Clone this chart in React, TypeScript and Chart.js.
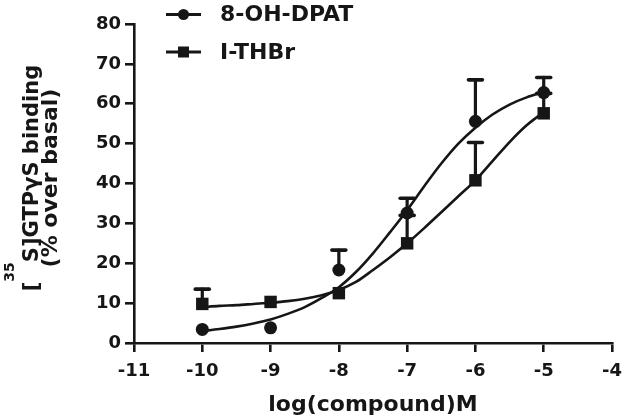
import { useEffect, useRef } from "react";
import { Chart, registerables } from "chart.js";

Chart.register(...registerables);

// ---- data ----
const logDose = [-10, -9, -8, -7, -6, -5];
const dpatMean = [3.4, 3.8, 18.3, 32.6, 55.6, 62.8];
const dpatSem = [0, 0, 5.0, 3.7, 10.4, 3.8];
const thbrMean = [9.8, 10.3, 12.5, 25.0, 40.8, 57.6];
const thbrSem = [3.7, 0, 0, 7.0, 9.5, 5.0];

// fitted curves at 0.25 log-unit steps
const fitX = [-10, -9.75, -9.5, -9.25, -9, -8.75, -8.5, -8.25, -8, -7.75, -7.5, -7.25, -7, -6.75, -6.5, -6.25, -6, -5.75, -5.5, -5.25, -5];
const dpatFit = [3.0, 3.5, 4.1, 4.9, 5.9, 7.3, 9.0, 11.3, 14.0, 17.8, 22.5, 27.8, 33.3, 39.3, 45.0, 50.0, 54.0, 57.3, 59.8, 61.6, 62.9];
const thbrFit = [9.0, 9.3, 9.5, 9.8, 10.1, 10.5, 11.1, 12.0, 13.3, 15.3, 18.3, 21.5, 25.0, 28.8, 32.8, 36.8, 40.8, 45.6, 50.4, 54.6, 57.9];

const xTicks = [-11, -10, -9, -8, -7, -6, -5, -4];
const yTicks = [0, 10, 20, 30, 40, 50, 60, 70, 80];
const seriesNames = ["8-OH-DPAT", "I-THBr"];
const xTitle = "log(compound)M";
const yTitleParts = ["[", "35", "S]GTP\u03B3S binding"];
const yTitleLine2 = "(% over basal)";

const INK = "#161616";
const FONT = "'DejaVu Sans', sans-serif";

const errorBarPlugin = {
  id: "errorBars",
  afterDatasetDraw(chart: any, args: any) {
    if (args.index !== 2) return;
    const ctx = chart.ctx;
    const xs = chart.scales.x;
    const ys = chart.scales.y;
    const groups = [
      { mean: dpatMean, sem: dpatSem },
      { mean: thbrMean, sem: thbrSem },
    ];
    ctx.save();
    ctx.strokeStyle = INK;
    ctx.lineCap = "round";
    groups.forEach((g) => {
      logDose.forEach((d, i) => {
        if (!g.sem[i]) return;
        const px = xs.getPixelForValue(d);
        const py = ys.getPixelForValue(g.mean[i]);
        const pt = ys.getPixelForValue(g.mean[i] + g.sem[i]);
        ctx.lineWidth = 3.2;
        ctx.beginPath();
        ctx.moveTo(px, py);
        ctx.lineTo(px, pt);
        ctx.stroke();
        ctx.lineWidth = 3.6;
        ctx.beginPath();
        ctx.moveTo(px - 7, pt);
        ctx.lineTo(px + 7, pt);
        ctx.stroke();
      });
    });
    ctx.restore();
  },
};

const textPlugin = {
  id: "extraText",
  afterDraw(chart: any) {
    const ctx = chart.ctx;
    ctx.save();
    ctx.fillStyle = INK;
    ctx.strokeStyle = INK;
    // legend
    const rows = [
      { y: 14.5, shape: "circle" },
      { y: 52, shape: "square" },
    ];
    rows.forEach((r, i) => {
      ctx.lineWidth = 3;
      ctx.beginPath();
      ctx.moveTo(166, r.y);
      ctx.lineTo(201, r.y);
      ctx.stroke();
      ctx.beginPath();
      if (r.shape === "circle") {
        ctx.arc(183.5, r.y, 5.5, 0, Math.PI * 2);
      } else {
        ctx.rect(178, r.y - 5.5, 11, 11);
      }
      ctx.fill();
      ctx.font = `bold 22px ${FONT}`;
      ctx.textBaseline = "middle";
      ctx.textAlign = "left";
      ctx.fillText(seriesNames[i], 220, r.y + 1);
    });

    // y title (rotated)
    const cy = 178;
    ctx.save();
    ctx.rotate(-Math.PI / 2);
    ctx.textBaseline = "alphabetic";
    ctx.textAlign = "left";
    const bigFont = `bold 21px ${FONT}`;
    const supFont = `bold 14px ${FONT}`;
    ctx.font = bigFont;
    const w0 = ctx.measureText(yTitleParts[0]).width;
    const w2 = ctx.measureText(yTitleParts[2]).width;
    ctx.font = supFont;
    const w1 = ctx.measureText(yTitleParts[1]).width;
    const total = w0 + w1 + w2;
    let tx = -cy - total / 2;
    ctx.font = bigFont;
    ctx.fillText(yTitleParts[0], tx, 37.5);
    tx += w0;
    ctx.font = supFont;
    ctx.fillText(yTitleParts[1], tx, 14);
    tx += w1;
    ctx.font = bigFont;
    ctx.fillText(yTitleParts[2], tx, 37.5);
    ctx.textAlign = "center";
    ctx.font = `bold 22px ${FONT}`;
    ctx.fillText(yTitleLine2, -cy, 57);
    ctx.restore();
    ctx.restore();
  },
};

export default function App() {
  const ref = useRef<HTMLCanvasElement>(null);

  useEffect(() => {
    if (!ref.current) return;
    const chart = new Chart(ref.current, {
      type: "scatter",
      data: {
        datasets: [
          {
            label: seriesNames[0],
            data: logDose.map((x, i) => ({ x, y: dpatMean[i] })),
            pointStyle: "circle",
            pointRadius: 6.5,
            backgroundColor: INK,
            borderColor: INK,
            borderWidth: 0,
            showLine: false,
          },
          {
            label: seriesNames[1],
            data: logDose.map((x, i) => ({ x, y: thbrMean[i] })),
            pointStyle: "rect",
            pointRadius: 8.8,
            backgroundColor: INK,
            borderColor: INK,
            borderWidth: 0,
            showLine: false,
          },
          {
            label: "fit1",
            data: fitX.map((x, i) => ({ x, y: dpatFit[i] })),
            showLine: true,
            pointRadius: 0,
            borderColor: INK,
            borderWidth: 2.6,
            cubicInterpolationMode: "monotone",
            fill: false,
          },
          {
            label: "fit2",
            data: fitX.map((x, i) => ({ x, y: thbrFit[i] })),
            showLine: true,
            pointRadius: 0,
            borderColor: INK,
            borderWidth: 2.6,
            cubicInterpolationMode: "monotone",
            fill: false,
          },
        ],
      },
      options: {
        animation: false,
        responsive: false,
        devicePixelRatio: 1,
        layout: { padding: { top: 24, right: 13, left: 0, bottom: 0 } },
        plugins: {
          legend: { display: false },
          tooltip: { enabled: false },
        },
        scales: {
          x: {
            type: "linear",
            min: -11,
            max: -4,
            afterBuildTicks: (s: any) => {
              s.ticks = xTicks.map((v) => ({ value: v }));
            },
            afterFit: (s: any) => {
              s.height = 77;
              s.paddingLeft = 0;
              s.paddingRight = 0;
            },
            ticks: {
              color: INK,
              font: { family: FONT, size: 18, weight: "bold" },
              padding: 9,
              maxRotation: 0,
              autoSkip: false,
            },
            grid: {
              drawOnChartArea: false,
              drawTicks: true,
              tickLength: 9,
              color: INK,
              lineWidth: 2.6,
            },
            border: { display: true, color: INK, width: 2.6 },
            title: {
              display: true,
              text: xTitle,
              color: INK,
              font: { family: FONT, size: 22, weight: "bold", lineHeight: 1 },
              padding: { top: 0, bottom: 4 },
            },
          },
          y: {
            type: "linear",
            min: 0,
            max: 80,
            afterBuildTicks: (s: any) => {
              s.ticks = yTicks.map((v) => ({ value: v }));
            },
            afterFit: (s: any) => {
              s.width = 134;
            },
            ticks: {
              color: INK,
              font: { family: FONT, size: 18, weight: "bold" },
              padding: 4,
              autoSkip: false,
            },
            grid: {
              drawOnChartArea: false,
              drawTicks: true,
              tickLength: 9,
              color: INK,
              lineWidth: 2.6,
            },
            border: { display: true, color: INK, width: 2.6 },
          },
        },
      },
      plugins: [errorBarPlugin, textPlugin],
    } as any);
    return () => chart.destroy();
  }, []);

  return (
    <div style={{ position: "fixed", left: 0, top: 0, width: 625, height: 420, background: "#fff" }}>
      <canvas ref={ref} width={625} height={420} style={{ display: "block" }} />
    </div>
  );
}
